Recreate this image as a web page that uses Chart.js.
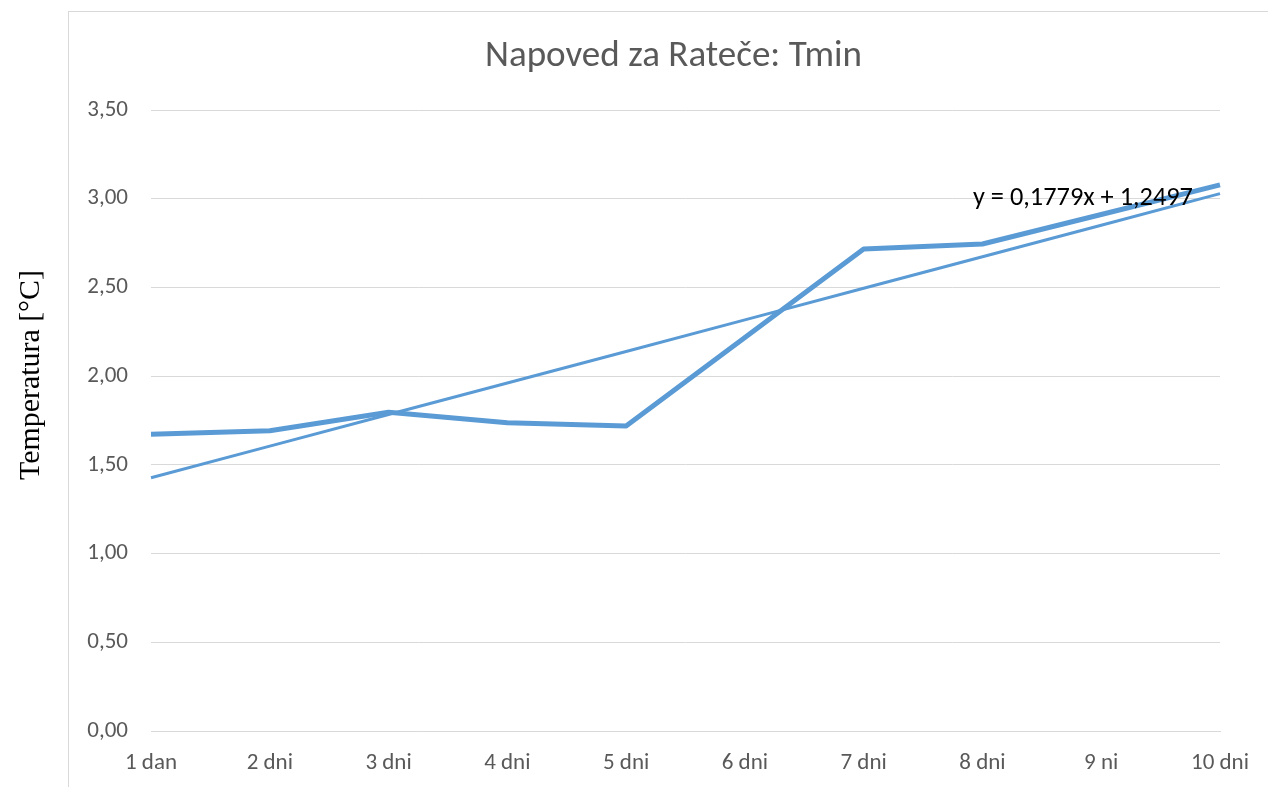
<!DOCTYPE html>
<html>
<head>
<meta charset="utf-8">
<title>Napoved za Rateče: Tmin</title>
<script src="https://cdn.jsdelivr.net/npm/chart.js@4.4.1/dist/chart.umd.min.js"></script>
<style>
  html, body { margin: 0; padding: 0; background: #ffffff; }
  #wrap { position: relative; width: 1268px; height: 787px; overflow: hidden; }
  #frame { position: absolute; left: 68px; top: 11px; width: 1300px; height: 900px;
           border: 1px solid #d9d9d9; box-sizing: border-box; }
  canvas { position: absolute; left: 0; top: 0; }
</style>
</head>
<body>
<div id="wrap">
  <div id="frame"></div>
  <canvas id="c" width="1268" height="787"></canvas>
</div>
<script>
// Forecast horizon labels
const categories = ['1 dan', '2 dni', '3 dni', '4 dni', '5 dni', '6 dni', '7 dni', '8 dni', '9 ni', '10 dni'];
// Minimum temperature forecast for Rateče [°C]
const tminValues = [1.672, 1.692, 1.797, 1.737, 1.719, 2.218, 2.717, 2.745, 2.911, 3.078];
// Linear trend: y = slope * x + intercept (x = 1..10)
const trendSlope = 0.1779;
const trendIntercept = 1.2497;
const yTicks = [0, 0.5, 1, 1.5, 2, 2.5, 3, 3.5];

const titleText = 'Napoved za Rateče: Tmin';
const yAxisText = 'Temperatura [°C]';
const fmt = v => v.toFixed(4).replace(/0+$/, '').replace(/\.$/, '').replace('.', ',');
const equationText = 'y = ' + fmt(trendSlope) + 'x + ' + fmt(trendIntercept);

const trendValues = categories.map((_, i) => trendSlope * (i + 1) + trendIntercept);

const sansFont = "'Carlito', 'Open Sans', sans-serif";
const serifFont = "'Liberation Serif', 'Times New Roman', serif";

// Pick a font size so that the text spans the given width
function fitFont(ctx, text, family, width) {
  ctx.font = '100px ' + family;
  const size = 100 * width / ctx.measureText(text).width;
  ctx.font = size.toFixed(2) + 'px ' + family;
}

// Draws the title, the rotated axis caption and the trend equation
const annotations = {
  id: 'annotations',
  afterDraw(chart) {
    const ctx = chart.ctx;
    const y = chart.scales.y;
    ctx.save();
    ctx.textBaseline = 'alphabetic';

    ctx.fillStyle = '#595959';
    fitFont(ctx, titleText, sansFont, 377);
    ctx.textAlign = 'left';
    ctx.fillText(titleText, 485, 66);

    ctx.save();
    ctx.translate(39, 480);
    ctx.rotate(-Math.PI / 2);
    ctx.fillStyle = '#000000';
    fitFont(ctx, yAxisText, serifFont, 210);
    ctx.textAlign = 'left';
    ctx.fillText(yAxisText, 0, 0);
    ctx.restore();

    ctx.fillStyle = '#000000';
    fitFont(ctx, equationText, sansFont, 220);
    ctx.textAlign = 'left';
    ctx.fillText(equationText, 973, y.getPixelForValue(3) + 6);
    ctx.restore();
  }
};

new Chart(document.getElementById('c'), {
  type: 'line',
  data: {
    labels: categories,
    datasets: [
      {
        label: 'Tmin',
        data: tminValues,
        borderColor: '#5b9bd5',
        borderWidth: 5,
        pointRadius: 0,
        tension: 0,
        borderJoinStyle: 'round',
        fill: false
      },
      {
        label: 'Linearni trend',
        data: trendValues,
        borderColor: '#5b9bd5',
        borderWidth: 3,
        pointRadius: 0,
        tension: 0,
        fill: false
      }
    ]
  },
  options: {
    responsive: false,
    animation: false,
    layout: { padding: { top: 110, right: 48, bottom: 0, left: 0 } },
    plugins: {
      legend: { display: false },
      title: { display: false },
      tooltip: { enabled: false }
    },
    scales: {
      x: {
        offset: false,
        grid: { display: false, drawTicks: false },
        border: { display: true, color: '#d9d9d9', width: 1 },
        ticks: {
          color: '#595959',
          font: { family: sansFont, size: 23 },
          padding: 18,
          maxRotation: 0,
          autoSkip: false
        },
        afterFit(scale) { scale.height = 56; }
      },
      y: {
        min: 0,
        max: 3.5,
        afterBuildTicks(scale) { scale.ticks = yTicks.map(v => ({ value: v })); },
        grid: { color: '#d9d9d9', lineWidth: 1, drawTicks: false },
        border: { display: false },
        ticks: {
          color: '#595959',
          font: { family: sansFont, size: 23 },
          padding: 23,
          callback: v => Number(v).toFixed(2).replace('.', ',')
        },
        afterFit(scale) { scale.width = 151; }
      }
    }
  },
  plugins: [annotations]
});
</script>
</body>
</html>
